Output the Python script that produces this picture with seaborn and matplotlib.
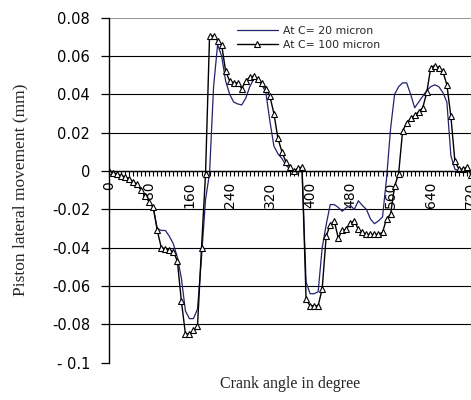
import matplotlib
matplotlib.use("Agg")
import matplotlib.pyplot as plt
import numpy as np
import pandas as pd
import seaborn as sns
from matplotlib.ticker import MultipleLocator, FixedLocator

# ---- data (crank angle every 8 degrees) ----
angles = list(range(0, 721, 8))

c20 = [
    0, -0.001, -0.0015, -0.0025, -0.003, -0.004, -0.0055, -0.007, -0.010, -0.013,
    -0.016, -0.019, -0.030, -0.031, -0.031, -0.034, -0.038, -0.045, -0.056, -0.073,
    -0.077, -0.077, -0.072, -0.045, -0.015, -0.001, 0.044, 0.066, 0.060, 0.047,
    0.040, 0.036, 0.035, 0.0345, 0.038, 0.044, 0.048, 0.048, 0.045, 0.041,
    0.026, 0.013, 0.009, 0.0065, 0.003, 0.001, 0.0, -0.0005, 0.0, -0.058,
    -0.064, -0.064, -0.063, -0.040, -0.028, -0.0175, -0.0175, -0.019, -0.021, -0.019,
    -0.018, -0.020, -0.0155, -0.018, -0.020, -0.025, -0.0275, -0.026, -0.024, -0.004,
    0.022, 0.040, 0.044, 0.046, 0.046, 0.040, 0.033, 0.036, 0.039, 0.042,
    0.044, 0.045, 0.044, 0.041, 0.036, 0.008, 0.001, 0.0, 0.0, 0.0,
    0.0,
]

c100 = [
    0, -0.001, -0.0015, -0.0025, -0.003, -0.004, -0.0055, -0.007, -0.010, -0.013,
    -0.016, -0.019, -0.031, -0.040, -0.0405, -0.041, -0.042, -0.047, -0.068, -0.085,
    -0.085, -0.083, -0.081, -0.040, -0.0015, 0.0705, 0.0705, 0.068, 0.066, 0.052,
    0.047, 0.046, 0.046, 0.043, 0.047, 0.049, 0.0495, 0.048, 0.046, 0.043,
    0.039, 0.030, 0.017, 0.010, 0.0047, 0.002, 0.0, 0.0015, 0.002, -0.067,
    -0.0703, -0.0703, -0.0703, -0.0615, -0.034, -0.028, -0.026, -0.035, -0.031, -0.0305,
    -0.027, -0.026, -0.0305, -0.032, -0.033, -0.033, -0.033, -0.033, -0.032, -0.025,
    -0.0225, -0.008, -0.0015, 0.021, 0.025, 0.0275, 0.029, 0.031, 0.033, 0.041,
    0.054, 0.055, 0.054, 0.052, 0.045, 0.0285, 0.005, 0.001, 0.001, 0.002,
    -0.002,
]

series_names = ["At C= 20 micron", "At C= 100 micron"]
xtick_values = [0, 80, 160, 240, 320, 400, 480, 560, 640, 720]
ytick_values = [-0.1, -0.08, -0.06, -0.04, -0.02, 0, 0.02, 0.04, 0.06, 0.08]
ytick_labels = ["- 0.1", "-0.08", "-0.06", "-0.04", "-0.02", "0", "0.02", "0.04", "0.06", "0.08"]

df = pd.DataFrame({"angle": angles, "c20": c20, "c100": c100})

sns.set_style("white")
plt.rcParams["font.family"] = ["DejaVu Sans"]

fig = plt.figure(figsize=(4.71, 4.00), dpi=100)
ax = fig.add_axes([109 / 471, 1 - 362.7 / 400, 1 - 109 / 471, (362.7 - 17.7) / 400])

sns.lineplot(data=df, x="angle", y="c20", ax=ax, color="#23236e", linewidth=0.9,
             label=series_names[0], estimator=None, sort=False)
sns.lineplot(data=df, x="angle", y="c100", ax=ax, color="black", linewidth=1.0,
             marker="^", markersize=5, markerfacecolor="white", markeredgecolor="black",
             markeredgewidth=0.8, label=series_names[1], estimator=None, sort=False)

ax.set_xlim(0, 720)
ax.set_ylim(-0.1, 0.08)

# spines
ax.spines["right"].set_visible(False)
ax.spines["top"].set_visible(False)
ax.spines["left"].set_color("black")
ax.spines["left"].set_linewidth(1.0)
ax.spines["bottom"].set_position(("data", 0))
ax.spines["bottom"].set_color("black")
ax.spines["bottom"].set_linewidth(1.0)

# y ticks / grid
ax.yaxis.set_major_locator(FixedLocator(ytick_values))
ax.set_yticklabels(ytick_labels)
ax.tick_params(axis="y", direction="out", length=5.5, width=0.9, color="black",
               labelsize=10.5, pad=8, left=True)
ax.yaxis.grid(True, color="black", linewidth=0.8)
ax.xaxis.grid(False)
ax.set_axisbelow(True)
gls = ax.get_ygridlines()
gls[0].set_visible(False)
gls[-1].set_color("#808080")
gls[-1].set_linewidth(1.2)

# x ticks
ax.xaxis.set_major_locator(FixedLocator(xtick_values))
ax.xaxis.set_minor_locator(MultipleLocator(8))
ax.set_xticklabels([str(v) for v in xtick_values], rotation=90, va="top", ha="center")
ax.tick_params(axis="x", which="both", direction="out", length=3.5, width=0.8,
               color="black", bottom=True)
ax.tick_params(axis="x", which="major", labelsize=10, pad=4)

for lab in ax.get_yticklabels() + ax.get_xticklabels():
    lab.set_color("black")

ax.set_xlabel("Crank angle in degree", fontfamily="Liberation Serif", fontsize=11.5)
ax.set_ylabel("Piston lateral movement (mm)", fontfamily="Liberation Serif", fontsize=12.5)
ax.xaxis.set_label_coords(0.5, -0.04)
ax.yaxis.set_label_coords(-0.222, 0.5)

leg = ax.legend(loc="upper left", bbox_to_anchor=(233 / 471, 1 - 22 / 400),
                bbox_transform=fig.transFigure, frameon=True, fancybox=False,
                fontsize=7.8, handlelength=3.8, handletextpad=0.5, labelspacing=0.35,
                borderpad=0.35, borderaxespad=0)
leg.get_frame().set_facecolor("white")
leg.get_frame().set_edgecolor("white")
leg.get_frame().set_alpha(1)

fig.savefig("out.png", dpi=100)
